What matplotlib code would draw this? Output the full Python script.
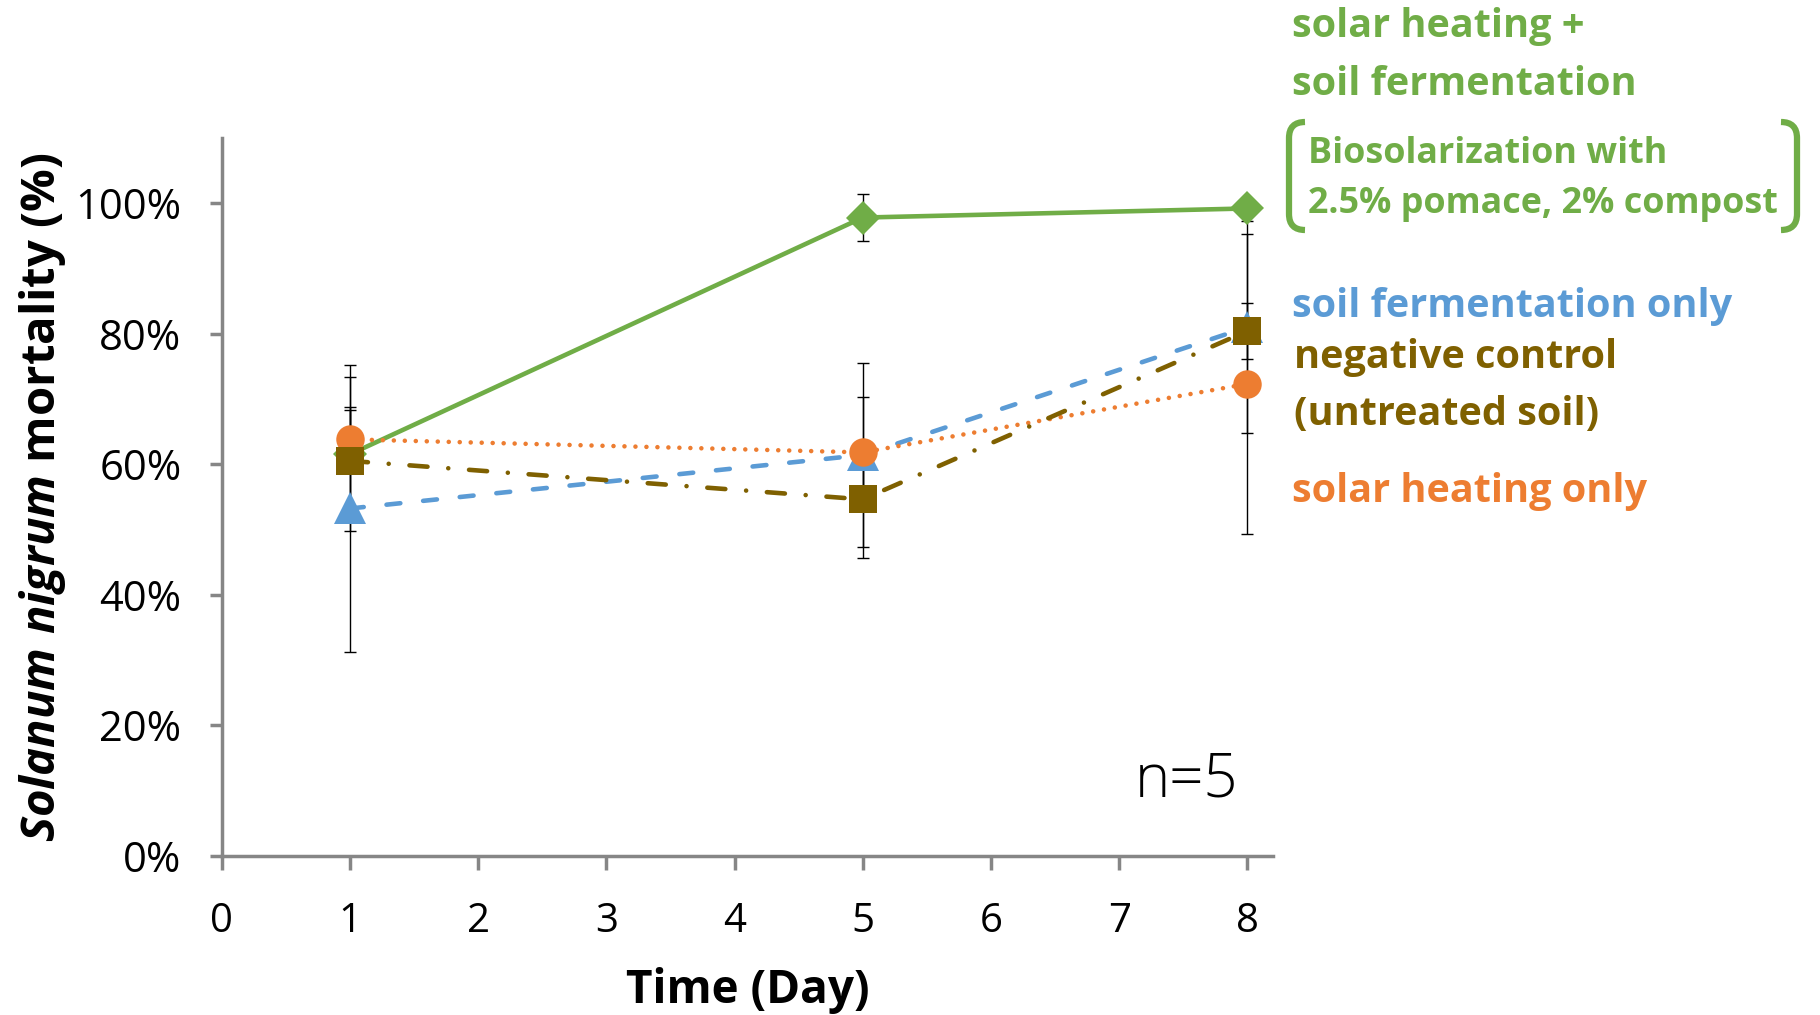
import matplotlib
matplotlib.use('Agg')
import matplotlib.pyplot as plt
from matplotlib.path import Path
from matplotlib.patches import PathPatch
from matplotlib.ticker import FuncFormatter

plt.rcParams['font.family'] = ['Open Sans', 'DejaVu Sans']
plt.rcParams['mathtext.fontset'] = 'custom'
plt.rcParams['mathtext.bfit'] = 'Open Sans:italic:bold'
plt.rcParams['mathtext.bf'] = 'Open Sans:bold'
plt.rcParams['mathtext.rm'] = 'Open Sans'
plt.rcParams['mathtext.it'] = 'Open Sans:italic'
plt.rcParams['lines.scale_dashes'] = False

# ---------------- data ----------------
days = [1, 5, 8]
x_ticks = [0, 1, 2, 3, 4, 5, 6, 7, 8]
y_ticks = [0, 20, 40, 60, 80, 100]

combined = [61.5, 97.8, 99.2]        # solar heating + soil fermentation
combined_err = [11.8, 3.6, 1.0]
ferment = [53.2, 61.4, 81.0]         # soil fermentation only
ferment_err = [22.0, 14.1, 16.3]
solar = [63.8, 61.8, 72.3]           # solar heating only
solar_err = [5.0, 8.5, 23.0]
control = [60.5, 54.6, 80.4]         # negative control
control_err = [7.8, 9.0, 4.3]

GREEN = '#70AD47'
BLUE = '#5B9BD5'
ORANGE = '#ED7D31'
BROWN = '#7F6000'
SPINE = '#868686'

W, H = 1820, 1015
fig = plt.figure(figsize=(W / 100, H / 100), dpi=100)
ax = fig.add_axes([221.7 / W, 1 - 855.5 / H, (1273 - 221.7) / W, (855.5 - 138) / H])


def fxy(x, y):
    return (x / W, 1 - y / H)


# error bars (behind markers)
for vals, errs in [(combined, combined_err), (ferment, ferment_err),
                   (solar, solar_err), (control, control_err)]:
    ax.errorbar(days, vals, yerr=errs, fmt='none', ecolor='black',
                elinewidth=1.0, capsize=4.3, capthick=1.0, zorder=2)

lw = 3.3
ax.plot(days, combined, color=GREEN, lw=lw, ls='-', solid_capstyle='round',
        marker='D', ms=17, mew=0, zorder=3)
ax.plot(days, ferment, color=BLUE, lw=lw, ls=(0, (10, 16.5)), dash_capstyle='round',
        marker='^', ms=22.5, mew=0, zorder=4)
ax.plot(days, solar, color=ORANGE, lw=lw, ls=(0, (0.01, 7.9)), dash_capstyle='round',
        marker='o', ms=20.5, mew=0, zorder=5)
ax.plot(days, control, color=BROWN, lw=lw, ls=(0, (13, 15, 0.01, 15)), dash_capstyle='round',
        marker='s', ms=20.5, mew=0, zorder=6)

ax.set_xlim(0, 8.2)
ax.set_ylim(0, 110)
ax.set_xticks(x_ticks)
ax.set_xticklabels([str(t) for t in x_ticks])
ax.set_yticks(y_ticks)
ax.yaxis.set_major_formatter(FuncFormatter(lambda v, p: f'{v:.0f}%'))

for s in ['top', 'right']:
    ax.spines[s].set_visible(False)
for s in ['left', 'bottom']:
    ax.spines[s].set_color(SPINE)
    ax.spines[s].set_linewidth(2.5)
ax.tick_params(axis='y', direction='out', length=9, width=2.5, color=SPINE,
               labelsize=30, pad=20, labelcolor='black')
ax.tick_params(axis='x', direction='out', length=10, width=2.5, color=SPINE,
               labelsize=29, pad=23, labelcolor='black')

# axis titles
fig.text(43 / W, 1 - 497 / H, r'$\mathbfit{Solanum\ nigrum}$ mortality (%)',
         rotation=90, ha='center', va='center', fontsize=34, fontweight='bold')
fig.text(748 / W, 1 - 990 / H, 'Time (Day)', ha='center', va='center',
         fontsize=33, fontweight='bold')

# n = 5
fig.text(1186 / W, 1 - 781 / H, 'n=5', ha='center', va='center', fontsize=43,
         fontweight='light')

# series labels
FS = 28.5
fig.text(*fxy(1292, 37), 'solar heating +', color=GREEN, fontsize=FS,
         fontweight='bold', ha='left', va='baseline')
fig.text(*fxy(1292, 95), 'soil fermentation', color=GREEN, fontsize=FS,
         fontweight='bold', ha='left', va='baseline')
fig.text(*fxy(1308, 163), 'Biosolarization with', color=GREEN, fontsize=25.8,
         fontweight='bold', ha='left', va='baseline')
fig.text(*fxy(1308, 213), '2.5% pomace, 2% compost', color=GREEN, fontsize=25.8,
         fontweight='bold', ha='left', va='baseline')
fig.text(*fxy(1292, 317), 'soil fermentation only', color=BLUE, fontsize=FS,
         fontweight='bold', ha='left', va='baseline')
fig.text(*fxy(1294, 368), 'negative control', color=BROWN, fontsize=FS,
         fontweight='bold', ha='left', va='baseline')
fig.text(*fxy(1294, 425), '(untreated soil)', color=BROWN, fontsize=FS,
         fontweight='bold', ha='left', va='baseline')
fig.text(*fxy(1292, 502), 'solar heating only', color=ORANGE, fontsize=FS,
         fontweight='bold', ha='left', va='baseline')

# brackets
def bracket(xv, xe, top, bot):
    pts = [fxy(xe, top), fxy(xv, top), fxy(xv, top + 16), fxy(xv, bot - 16),
           fxy(xv, bot), fxy(xe, bot)]
    codes = [Path.MOVETO, Path.CURVE3, Path.CURVE3, Path.LINETO, Path.CURVE3, Path.CURVE3]
    patch = PathPatch(Path(pts, codes), transform=fig.transFigure, fill=False,
                      edgecolor=GREEN, lw=4.5, capstyle='butt')
    fig.add_artist(patch)

bracket(1289, 1305, 122, 230)
bracket(1797, 1781, 122, 230)

fig.savefig('out.png', dpi=100)
